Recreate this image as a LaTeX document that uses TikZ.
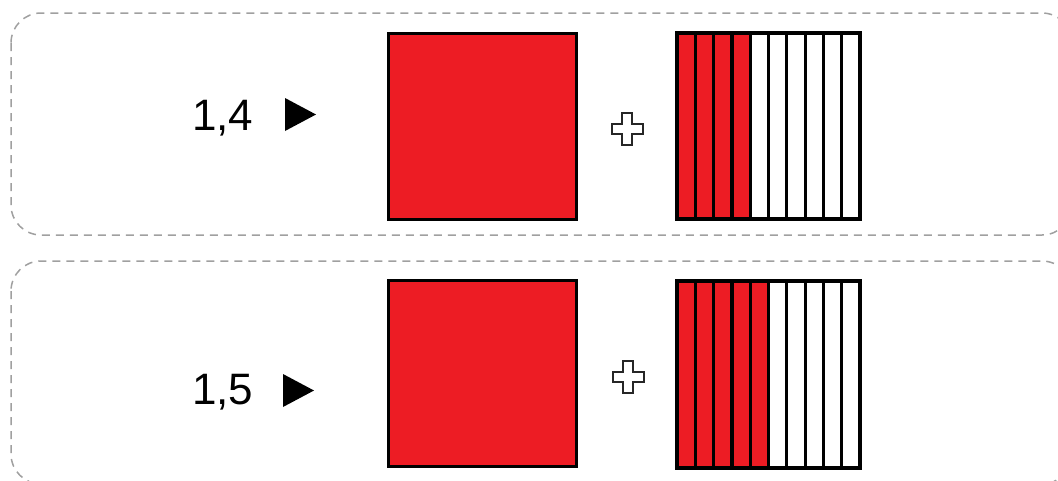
\documentclass[tikz,border=0pt]{standalone}
\usepackage{fontspec}
\setmainfont{Liberation Sans}
\definecolor{myred}{HTML}{ED1C24}
\definecolor{dashgray}{HTML}{A0A0A0}
\begin{document}
\begin{tikzpicture}[x=1pt,y=-1pt,
  panel/.style={draw=dashgray, line width=1.5pt, dash pattern=on 8pt off 6pt, rounded corners=30pt},
  unitsq/.style={draw=black, fill=myred, line width=3pt, minimum width=188pt, minimum height=186pt, inner sep=0pt, outer sep=0pt},
  stripline/.style={draw=black, line width=3.2pt},
  numlabel/.style={font=\fontsize{44}{50}\selectfont, anchor=base west, inner sep=0pt},
  arrowtri/.style={fill=black, draw=none},
  plussign/.style={draw=black!85, fill=white, line width=2.8pt, line join=miter}
]
\useasboundingbox (0,0) rectangle (1058,480);
\clip (0,0) rectangle (1058,480);

% panels
\draw[panel] (11,13) rectangle (1072,235);
\draw[panel] (11,261) rectangle (1072,484);

% ---------- top row: 1,4 ----------
\node[numlabel] (t1) at (192,130) {1,4};
\draw[arrowtri] (285,98) -- (316,114.5) -- (285,131) -- cycle;
\node[unitsq] (sq1) at (482,126) {};
\draw[plussign] (622,113) -- (632,113) -- (632,124) -- (643,124) -- (643,134) -- (632,134) -- (632,145) -- (622,145) -- (622,134) -- (612,134) -- (612,124) -- (622,124) -- cycle;
\coordinate (b1nw) at (677,33);
\coordinate (b1se) at (860,219);
\fill[myred] (677,33) rectangle (750.2,219);
\foreach \i in {1,...,9} {
  \draw[stripline] ({677+18.3*\i},33) -- ({677+18.3*\i},219);
}
\draw[stripline] (b1nw) rectangle (b1se);

% ---------- bottom row: 1,5 ----------
\node[numlabel] (t2) at (192,404) {1,5};
\draw[arrowtri] (283,374) -- (314,390.5) -- (283,407) -- cycle;
\node[unitsq] (sq2) at (482,373.5) {};
\draw[plussign] (623,361) -- (633,361) -- (633,372) -- (644,372) -- (644,382) -- (633,382) -- (633,393) -- (623,393) -- (623,382) -- (613,382) -- (613,372) -- (623,372) -- cycle;
\coordinate (b2nw) at (677,281);
\coordinate (b2se) at (860,468);
\fill[myred] (677,281) rectangle (768.5,468);
\foreach \i in {1,...,9} {
  \draw[stripline] ({677+18.3*\i},281) -- ({677+18.3*\i},468);
}
\draw[stripline] (b2nw) rectangle (b2se);
\end{tikzpicture}
\end{document}
